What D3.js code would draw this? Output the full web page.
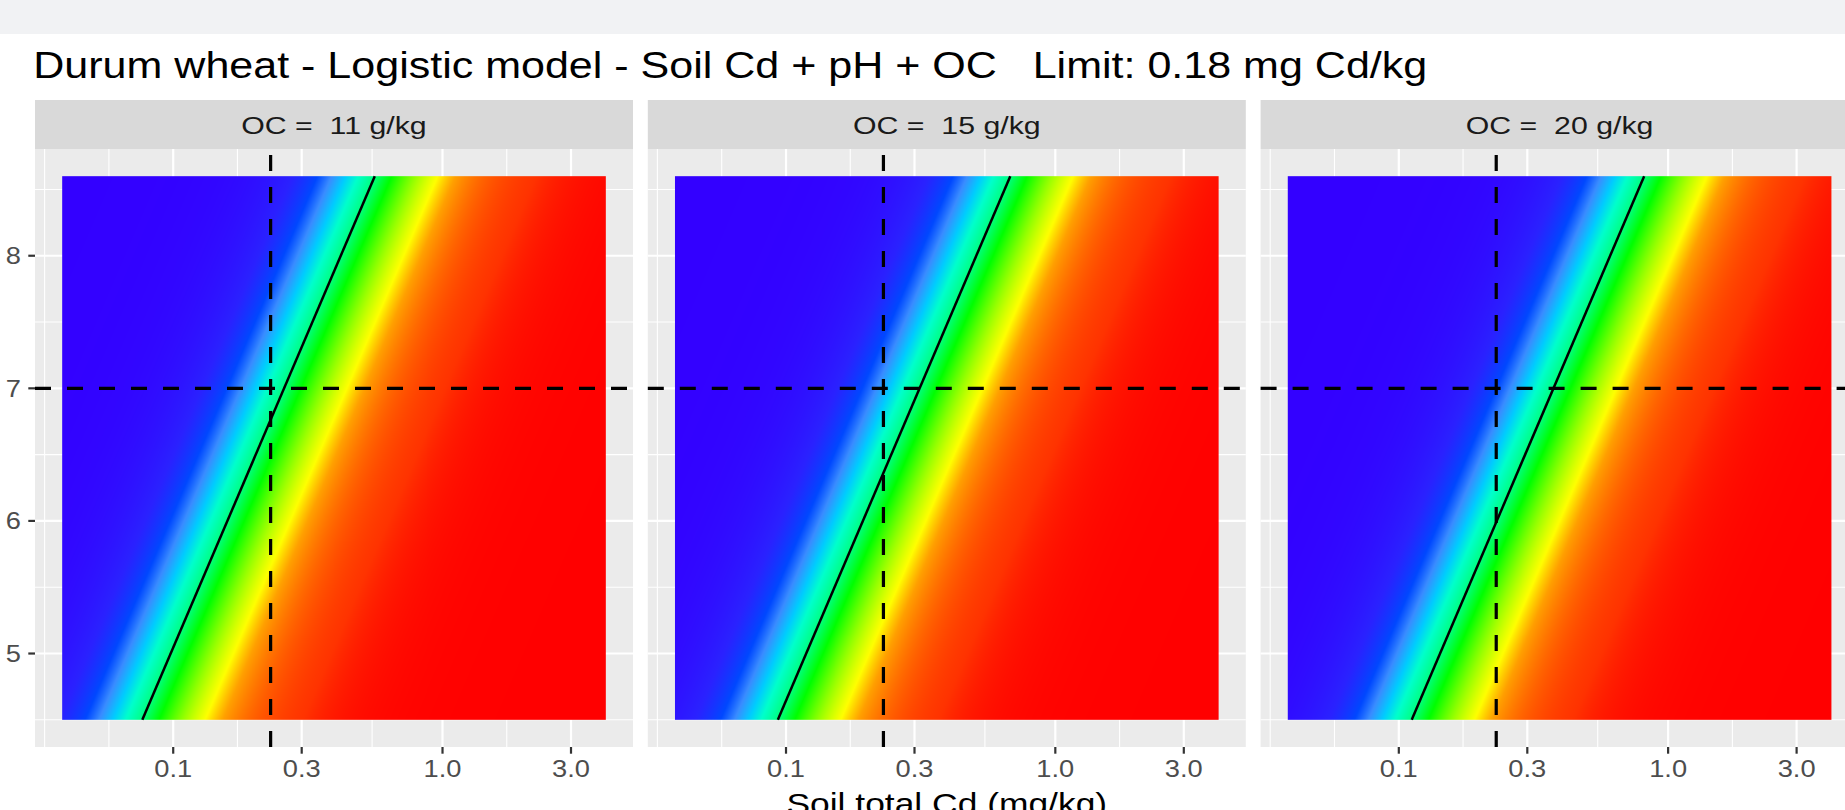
<!DOCTYPE html>
<html><head><meta charset="utf-8">
<script src="https://cdn.jsdelivr.net/npm/d3@7"></script>
<style>
html,body{margin:0;padding:0;background:#fff;}
svg{display:block;font-family:"Liberation Sans", Arial, sans-serif;}
text{white-space:pre;}
</style></head><body>
<svg id="chart" width="1845" height="810"></svg>
<script>
// ---------- data ----------
const titleText = "Durum wheat - Logistic model - Soil Cd + pH + OC   Limit: 0.18 mg Cd/kg";
const xAxisTitle = "Soil total Cd (mg/kg)";
const ocLevels = [11, 15, 20];
const cdBreaks = [0.1, 0.3, 1.0, 3.0];
const cdLabels = ["0.1", "0.3", "1.0", "3.0"];
const cdMinorBreaks = [0.0333, 0.0577, 0.1732, 0.5477, 1.7321];
const phBreaks = [5, 6, 7, 8];
const phLabels = ["5", "6", "7", "8"];
const phMinorBreaks = [4.5, 5.5, 6.5, 7.5, 8.5];
const cdExtent = [0.0387, 4.04];
const phExtent = [4.5, 8.6];
// logistic model: logit(p) = b0 + bCd*log10(Cd) + bPH*pH + bOC*ln(OC)
const coefIntercept = 17.642;
const coefLog10Cd = 6.5;
const coefPH = -1.3683;
const coefLnOC = -1.768;
const contourP = 0.5;
const refCd = 0.23;
const refPH = 7;
const paletteStops   = [0, 0.12, 0.2, 0.26, 0.33, 0.4, 0.5, 0.6, 0.73, 0.82, 0.875, 0.93, 0.98, 1];
const paletteColours = ["#3300FF", "#2A22FF", "#0048FF", "#3A8CFF", "#00CCFF", "#00FFCC", "#00FF80", "#00FF00", "#99FF00", "#FFFF00", "#FFA000", "#FF6600", "#FF3300", "#FF0000"];

// ---------- layout ----------
const W = 1845, H = 810;
const panelLeft = 35, panelStep = 612.8, panelW = 598, panelTop = 149, panelH = 598;
const stripTop = 100, stripH = 49;
const fsTitle = 36, fsStrip = 23.3, fsTick = 23.3, fsAxis = 30;

const svg = d3.select("#chart");
svg.append("rect").attr("x", 0).attr("y", 0).attr("width", W).attr("height", H).attr("fill", "#ffffff");
svg.append("rect").attr("x", 0).attr("y", 0).attr("width", W).attr("height", 34).attr("fill", "#F1F2F4");

function addText(g, opt) {
  const t = g.append("text")
    .attr("x", 0).attr("y", opt.y)
    .attr("font-size", opt.size)
    .attr("fill", opt.fill || "#000")
    .attr("xml:space", "preserve")
    .text(opt.text);
  const nat = t.node().getComputedTextLength();
  const w = nat * (opt.sx || 1);
  t.attr("textLength", w).attr("lengthAdjust", "spacingAndGlyphs");
  let x = opt.x;
  if (opt.anchor === "middle") x -= w / 2;
  else if (opt.anchor === "end") x -= w;
  t.attr("x", x);
  return t;
}

function logit(p) { return Math.log(p / (1 - p)); }
function prob(cd, ph, oc) {
  const z = coefIntercept + coefLog10Cd * Math.log10(cd) + coefPH * ph + coefLnOC * Math.log(oc);
  return 1 / (1 + Math.exp(-z));
}
function contourCd(ph, oc) {
  const L = (logit(contourP) - coefIntercept - coefPH * ph - coefLnOC * Math.log(oc)) / coefLog10Cd;
  return Math.pow(10, L);
}

const colour = d3.scaleLinear().domain(paletteStops).range(paletteColours)
  .interpolate(d3.interpolateRgb).clamp(true);

// expanded domains (5% each side, like ggplot)
const lx0 = Math.log10(cdExtent[0]), lx1 = Math.log10(cdExtent[1]);
const ex = (lx1 - lx0) * 0.05;
const cdDomain = [Math.pow(10, lx0 - ex), Math.pow(10, lx1 + ex)];
const ey = (phExtent[1] - phExtent[0]) * 0.05;
const phDomain = [phExtent[0] - ey, phExtent[1] + ey];

const y = d3.scaleLinear().domain(phDomain).range([panelTop + panelH, panelTop]);

// title
addText(svg, {x: 33.3, y: 78.3, text: titleText, size: fsTitle, fill: "#000", sx: 1.195});

ocLevels.forEach((oc, i) => {
  const left = panelLeft + i * panelStep;
  const x = d3.scaleLog().domain(cdDomain).range([left, left + panelW]);
  const g = svg.append("g");

  // strip
  g.append("rect").attr("x", left).attr("y", stripTop).attr("width", panelW).attr("height", stripH).attr("fill", "#D9D9D9");
  addText(g, {x: left + panelW / 2, y: 134, text: "OC =  " + oc + " g/kg", size: fsStrip, fill: "#1A1A1A", anchor: "middle", sx: 1.3});

  // panel background
  g.append("rect").attr("x", left).attr("y", panelTop).attr("width", panelW).attr("height", panelH).attr("fill", "#EBEBEB");

  // minor grid
  cdMinorBreaks.filter(v => v > cdDomain[0] && v < cdDomain[1]).forEach(v => {
    g.append("line").attr("x1", x(v)).attr("x2", x(v)).attr("y1", panelTop).attr("y2", panelTop + panelH)
      .attr("stroke", "#fff").attr("stroke-width", 1.1);
  });
  phMinorBreaks.forEach(v => {
    g.append("line").attr("x1", left).attr("x2", left + panelW).attr("y1", y(v)).attr("y2", y(v))
      .attr("stroke", "#fff").attr("stroke-width", 1.1);
  });
  // major grid
  cdBreaks.forEach(v => {
    g.append("line").attr("x1", x(v)).attr("x2", x(v)).attr("y1", panelTop).attr("y2", panelTop + panelH)
      .attr("stroke", "#fff").attr("stroke-width", 2.2);
  });
  phBreaks.forEach(v => {
    g.append("line").attr("x1", left).attr("x2", left + panelW).attr("y1", y(v)).attr("y2", y(v))
      .attr("stroke", "#fff").attr("stroke-width", 2.2);
  });

  // raster
  const rx0 = x(cdExtent[0]), rx1 = x(cdExtent[1]);
  const ry0 = y(phExtent[1]), ry1 = y(phExtent[0]);
  const cw = Math.round(rx1 - rx0), ch = Math.round(ry1 - ry0);
  const canvas = document.createElement("canvas");
  canvas.width = cw; canvas.height = ch;
  const ctx = canvas.getContext("2d");
  const img = ctx.createImageData(cw, ch);
  for (let r = 0; r < ch; r++) {
    const ph = y.invert(ry0 + (r + 0.5) * (ry1 - ry0) / ch);
    for (let c = 0; c < cw; c++) {
      const cd = x.invert(rx0 + (c + 0.5) * (rx1 - rx0) / cw);
      const col = d3.rgb(colour(prob(cd, ph, oc)));
      const k = (r * cw + c) * 4;
      img.data[k] = col.r; img.data[k + 1] = col.g; img.data[k + 2] = col.b; img.data[k + 3] = 255;
    }
  }
  ctx.putImageData(img, 0, 0);
  g.append("image").attr("x", rx0).attr("y", ry0).attr("width", rx1 - rx0).attr("height", ry1 - ry0)
    .attr("preserveAspectRatio", "none").attr("href", canvas.toDataURL());

  // contour line (p = contourP)
  const line = d3.line().x(d => x(contourCd(d, oc))).y(d => y(d));
  g.append("path").attr("d", line(phExtent)).attr("fill", "none").attr("stroke", "#000").attr("stroke-width", 2.5);

  // reference dashed lines
  g.append("line").attr("x1", left).attr("x2", left + panelW).attr("y1", y(refPH)).attr("y2", y(refPH))
    .attr("stroke", "#000").attr("stroke-width", 3.2).attr("stroke-dasharray", "16,16");
  g.append("line").attr("x1", x(refCd)).attr("x2", x(refCd)).attr("y1", panelTop + panelH).attr("y2", panelTop)
    .attr("stroke", "#000").attr("stroke-width", 3.2).attr("stroke-dasharray", "16,16");

  // x axis ticks and labels
  cdBreaks.forEach((v, j) => {
    g.append("line").attr("x1", x(v)).attr("x2", x(v)).attr("y1", panelTop + panelH).attr("y2", panelTop + panelH + 6.7)
      .attr("stroke", "#333333").attr("stroke-width", 2.2);
    addText(g, {x: x(v), y: 777.3, text: cdLabels[j], size: fsTick, fill: "#4D4D4D", anchor: "middle", sx: 1.17});
  });
});

// y axis (left of first panel)
phBreaks.forEach((v, j) => {
  svg.append("line").attr("x1", panelLeft - 6.7).attr("x2", panelLeft).attr("y1", y(v)).attr("y2", y(v))
    .attr("stroke", "#333333").attr("stroke-width", 2.2);
  addText(svg, {x: 21, y: y(v) + 8.4, text: phLabels[j], size: fsTick, fill: "#4D4D4D", anchor: "end", sx: 1.17});
});

// x axis title, centred on the full panel span (cut by the bottom edge, as in the reference)
const spanCenter = (panelLeft + (panelLeft + 2 * panelStep + panelW)) / 2;
addText(svg, {x: spanCenter, y: 813.5, text: xAxisTitle, size: fsAxis, fill: "#000", anchor: "middle", sx: 1.18});
</script>
</body></html>
